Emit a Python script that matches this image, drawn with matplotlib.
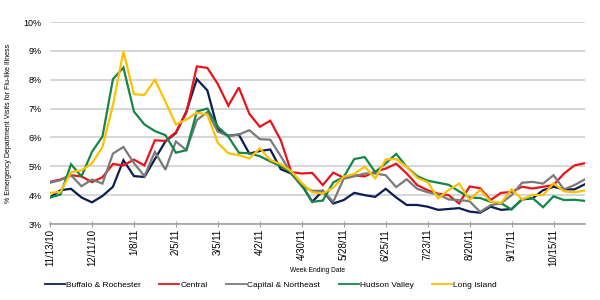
import matplotlib
matplotlib.use("Agg")
import matplotlib.pyplot as plt
import numpy as np

plt.rcParams['font.family'] = ['Liberation Sans', 'DejaVu Sans']

tick_labels = ["11/13/10", "12/11/10", "1/8/11", "2/5/11", "3/5/11", "4/2/11", "4/30/11",
               "5/28/11", "6/25/11", "7/23/11", "8/20/11", "9/17/11", "10/15/11"]

buffalo = [3.92, 4.17, 4.22, 3.92, 3.75, 3.97, 4.29, 5.21, 4.66, 4.63,
           5.25, 5.86, 6.15, 6.9, 8.02, 7.63, 6.27, 6.06, 6.1, 5.44,
           5.53, 5.58, 4.9, 4.75, 4.35, 3.77, 4.15, 3.71, 3.83, 4.08,
           4.0, 3.94, 4.22, 3.92, 3.66, 3.66, 3.6, 3.49, 3.52, 3.55,
           3.43, 3.39, 3.6, 3.49, 3.52, 3.85, 3.89, 4.17, 4.29, 4.2,
           4.2, 4.38]
central = [4.46, 4.54, 4.69, 4.65, 4.45, 4.62, 5.08, 5.03, 5.23, 5.03,
           5.9, 5.88, 6.18, 6.86, 8.46, 8.41, 7.85, 7.1, 7.73, 6.82,
           6.37, 6.58, 5.9, 4.8, 4.75, 4.77, 4.35, 4.78, 4.6, 4.69,
           4.65, 4.82, 4.92, 5.09, 4.75, 4.35, 4.17, 4.05, 4.0, 3.71,
           4.3, 4.24, 3.83, 4.08, 4.11, 4.29, 4.23, 4.29, 4.35, 4.75,
           5.03, 5.11]
capital = [4.43, 4.52, 4.69, 4.31, 4.54, 4.4, 5.44, 5.67, 5.11, 4.66,
           5.5, 4.88, 5.86, 5.56, 6.6, 6.88, 6.2, 6.05, 6.1, 6.25,
           5.94, 5.92, 5.35, 4.75, 4.3, 4.15, 4.15, 3.77, 4.57, 4.65,
           4.75, 4.75, 4.69, 4.28, 4.55, 4.22, 4.1, 4.03, 3.85, 3.83,
           3.79, 3.42, 3.65, 3.72, 4.0, 4.43, 4.46, 4.4, 4.69, 4.2,
           4.35, 4.55]
hudson = [3.92, 4.02, 5.07, 4.65, 5.5, 6.03, 8.02, 8.42, 6.9, 6.45,
          6.22, 6.08, 5.47, 5.56, 6.9, 7.0, 6.37, 6.03, 5.47, 5.45,
          5.35, 5.17, 5.0, 4.78, 4.35, 3.77, 3.81, 4.44, 4.63, 5.25,
          5.32, 4.8, 5.1, 5.43, 4.98, 4.66, 4.5, 4.43, 4.36, 4.13,
          3.92, 3.9, 3.77, 3.72, 3.5, 3.87, 3.9, 3.58, 3.96, 3.83,
          3.84, 3.8]
long_island = [4.08, 4.11, 4.8, 4.86, 5.1, 5.67, 7.12, 8.98, 7.5, 7.47,
               8.0, 7.24, 6.45, 6.62, 6.86, 6.79, 5.81, 5.45, 5.39, 5.27,
               5.62, 5.22, 5.07, 4.83, 4.42, 4.1, 4.06, 4.26, 4.64, 4.73,
               4.99, 4.58, 5.24, 5.25, 4.98, 4.6, 4.45, 3.89, 4.18, 4.4,
               3.84, 4.18, 3.78, 3.73, 4.2, 3.85, 4.01, 4.0, 4.41, 4.13,
               4.1, 4.16]

series = [("Buffalo & Rochester", buffalo, "#0b1d51"),
          ("Central", central, "#e8141b"),
          ("Capital & Northeast", capital, "#7a7a7a"),
          ("Hudson Valley", hudson, "#14864a"),
          ("Long Island", long_island, "#ffc000")]

fig = plt.figure(figsize=(6, 3), dpi=100)
ax = fig.add_axes([50/600, 1-224/300, 535/600, 202/300])

x = np.arange(len(buffalo))
for name, vals, col in series:
    ax.plot(x, vals, color=col, lw=1.6, label=name, solid_joinstyle='miter')

ax.set_xlim(0, len(buffalo) - 1)
ax.set_ylim(3, 10)
yt = np.arange(3, 11)
ax.set_yticks(yt)
ax.set_yticklabels([f"{v}%" for v in yt], fontsize=6.5)
ax.yaxis.grid(True, color="#cccccc", lw=1.1)
ax.set_axisbelow(True)
ax.tick_params(axis='y', length=0, pad=6)

ax.set_xticks(np.arange(0, len(buffalo), 4))
ax.set_xticklabels(tick_labels, rotation=90, fontsize=7)
ax.tick_params(axis='x', direction='inout', length=5, color="#a0a0a0", pad=1)

for s in ['left', 'right', 'top']:
    ax.spines[s].set_visible(False)
ax.spines['bottom'].set_color("#a0a0a0")
ax.spines['bottom'].set_linewidth(1.2)

ax.set_ylabel("% Emergency Department Visits for Flu-like Illness", fontsize=5, labelpad=8)
ax.set_xlabel("Week Ending Date", fontsize=4.8, labelpad=1)

leg = fig.legend(loc='center', bbox_to_anchor=(271/600, 1-285/300), ncol=5,
                 frameon=False, fontsize=6, handlelength=2.4, handletextpad=0.15,
                 columnspacing=2.2, borderpad=0)
for l in leg.get_lines():
    l.set_linewidth(1.3)

fig.savefig("out.png", dpi=100)
